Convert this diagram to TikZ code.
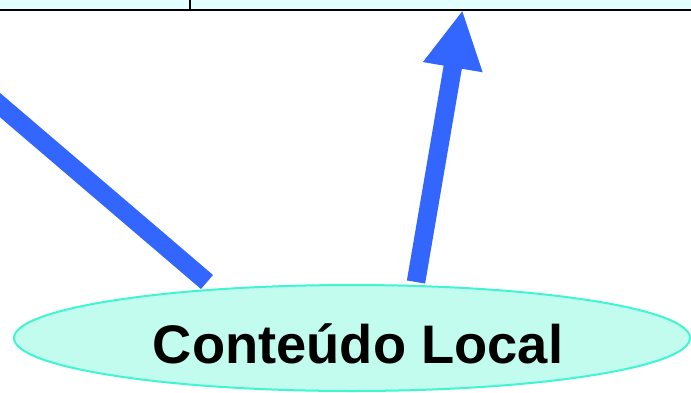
\documentclass[tikz,border=0pt]{standalone}
\usepackage{fontspec}
\setmainfont{Liberation Sans}
\usetikzlibrary{arrows.meta,shapes.geometric}
\definecolor{arrowblue}{HTML}{3366FF}
\definecolor{ellfill}{HTML}{C2FCEE}
\definecolor{elldraw}{HTML}{40F5D2}
\definecolor{topfill}{HTML}{E4FFFF}
\tikzset{
  bluebar/.style={draw=arrowblue, line width=18.5pt, line cap=butt},
  bluearrow/.style={bluebar, -{Triangle[length=58pt,width=56pt]}},
  topbox/.style={fill=topfill, draw=black, line width=2pt},
  oval/.style={ellipse, draw=elldraw, line width=2pt, fill=ellfill, minimum width=676pt, minimum height=106pt, inner sep=0pt},
  ovaltext/.style={inner sep=0pt, font=\fontsize{54.3}{60}\selectfont\bfseries}
}
\begin{document}
\begin{tikzpicture}[x=1pt,y=-1pt]
\useasboundingbox (0,0) rectangle (691,392);
\path[topbox] (-10,-10) rectangle (190,10);
\path[topbox] (190,-10) rectangle (710,10);
\node[oval] (local) at (352,338) {};
\node[ovaltext, anchor=base] (localtext) at (358,363.5) {Conteúdo Local};
\coordinate (leftend) at (-20,88);
\coordinate (leftfoot) at (207,282);
\coordinate (upfoot) at (416,282);
\coordinate (uptip) at (462.5,10);
\draw[bluebar] (leftend) -- (leftfoot);
\draw[bluearrow] (upfoot) -- (uptip);
\end{tikzpicture}
\end{document}
